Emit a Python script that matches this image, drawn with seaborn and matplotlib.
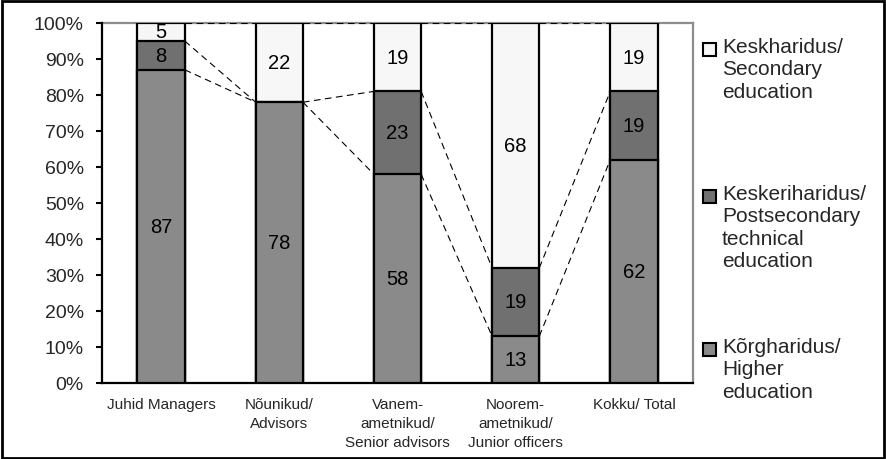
import numpy as np
import matplotlib.pyplot as plt
import matplotlib.patches as mpatches
import seaborn as sns

# data (percent)
categories = ['Juhid Managers', 'Nõunikud/\nAdvisors', 'Vanem-\nametnikud/\nSenior advisors',
              'Noorem-\nametnikud/\nJunior officers', 'Kokku/ Total']
higher = [87, 78, 58, 13, 62]
postsecondary = [8, 0, 23, 19, 19]
secondary = [5, 22, 19, 68, 19]

legend_labels = ['Keskharidus/\nSecondary\neducation',
                 'Keskeriharidus/\nPostsecondary\ntechnical\neducation',
                 'Kõrgharidus/\nHigher\neducation']

c_higher = '#8a8a8a'
c_post = '#707070'
c_sec = '#f7f7f7'

sns.set_theme(style='white')
plt.rcParams['font.family'] = ['Liberation Sans', 'DejaVu Sans']

fig = plt.figure(figsize=(8.87, 4.60), dpi=100)
ax = fig.add_axes([102 / 887, 1 - 384 / 460, (693 - 102) / 887, (384 - 24) / 460])

h = np.array(higher)
p = np.array(postsecondary)
s = np.array(secondary)
cum1 = h
cum2 = h + p
cum3 = h + p + s

bar_w = 0.4
for vals, col in [(cum3, c_sec), (cum2, c_post), (cum1, c_higher)]:
    sns.barplot(x=list(range(len(categories))), y=vals, color=col, edgecolor='black',
                linewidth=1.6, width=bar_w, saturation=1, ax=ax, zorder=3)

# series lines between neighbouring bars
xs = np.arange(len(categories))
for cum in (cum1, cum2, cum3):
    for i in range(len(xs) - 1):
        ax.plot([xs[i] + bar_w / 2, xs[i + 1] - bar_w / 2], [cum[i], cum[i + 1]],
                color='black', lw=0.8, ls=(0, (6, 4)), zorder=2)

# value labels
for i in range(len(xs)):
    segs = [(0, h[i]), (h[i], cum2[i]), (cum2[i], cum3[i])]
    for (lo, hi) in segs:
        v = hi - lo
        if v > 0:
            ax.text(xs[i], (lo + hi) / 2, f'{v}', ha='center', va='center',
                    fontsize=14.5, color='black', zorder=5)

ax.set_xlim(-0.5, len(categories) - 0.5)
ax.set_ylim(0, 100)
ax.set_yticks(np.arange(0, 101, 10))
ax.set_yticklabels([f'{v}%' for v in range(0, 101, 10)], fontsize=14)
ax.set_xticks(xs)
ax.set_xticklabels(categories, fontsize=11, linespacing=1.45)
ax.set_xticks(np.arange(-0.5, len(categories), 1), minor=True)
ax.tick_params(axis='x', which='major', length=0, pad=10)
ax.tick_params(axis='x', which='minor', length=5, width=1.5, direction='out', color='black')
ax.tick_params(axis='y', length=4, width=1.5, direction='out', color='black', pad=9, left=True)
ax.set_xlabel('')
ax.set_ylabel('')
for side in ('left', 'bottom'):
    ax.spines[side].set_color('black')
    ax.spines[side].set_linewidth(1.6)
for side in ('top', 'right'):
    ax.spines[side].set_color('#8c8c8c')
    ax.spines[side].set_linewidth(1.6)
ax.spines['top'].set_zorder(1)
ax.grid(False)

# legend placed like the original (uneven spacing)
leg_cols = [c_sec, c_post, c_higher]
leg_y = [50, 197, 350]
for lab, col, yc in zip(legend_labels, leg_cols, leg_y):
    fig.patches.append(mpatches.Rectangle((703 / 887, 1 - (yc + 7) / 460), 13 / 887, 13 / 460,
                                          transform=fig.transFigure, facecolor=col,
                                          edgecolor='black', lw=1.5))
    fig.text(722 / 887, 1 - (yc - 12) / 460, lab, ha='left', va='top', fontsize=15,
             linespacing=1.22)

# outer frame
fig.patches.append(mpatches.Rectangle((0.002, 0.003), 0.995, 0.993, transform=fig.transFigure,
                                      fill=False, edgecolor='black', lw=2))

fig.savefig('out.png', dpi=100)
